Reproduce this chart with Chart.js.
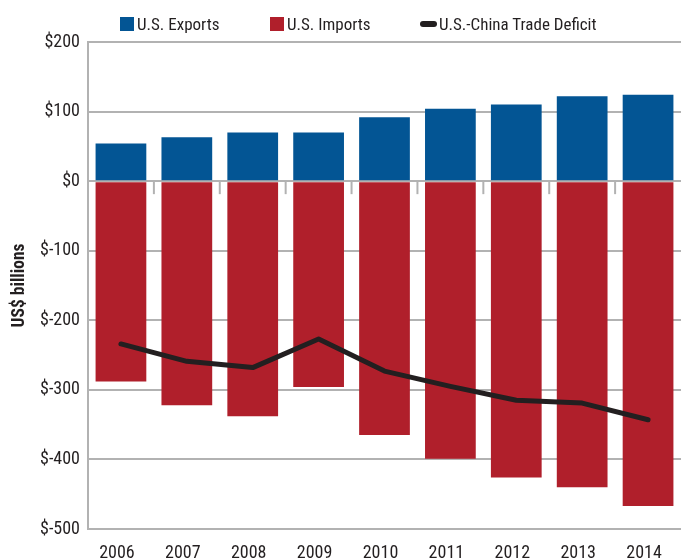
<!DOCTYPE html>
<html>
<head>
<meta charset="utf-8">
<script src="https://cdn.jsdelivr.net/npm/chart.js@4/dist/chart.umd.min.js"></script>
<style>
  html, body { margin: 0; padding: 0; background: #fff; }
  #wrap { position: relative; width: 681px; height: 558px; }
  #legend { position: absolute; left: 0; top: 13px; width: 681px; height: 21px;
    font-family: 'Liberation Sans Narrow', 'Roboto Condensed', 'Liberation Sans', sans-serif; font-size: 17px; color: #231f20; }
  .item { position: absolute; top: 0; display: flex; align-items: center; white-space: nowrap; height: 21px; }
  .sw { width: 14px; height: 14px; margin-right: 3px; }
  .ln { width: 17px; height: 6px; border-radius: 3px; margin-right: 2px; background: #231f20; }
</style>
</head>
<body>
<div id="wrap">
  <canvas id="c" width="681" height="558"></canvas>
  <div id="legend"></div>
</div>
<script>
const years = ['2006', '2007', '2008', '2009', '2010', '2011', '2012', '2013', '2014'];
const exportsUS = [54, 63, 70, 70, 92, 104, 110, 122, 124];
const importsUS = [-288, -322, -338, -296, -365, -399, -426, -440, -467];
const tradeDeficit = [-234, -259, -268, -227, -273, -295, -315, -319, -343];
const seriesNames = ['U.S. Exports', 'U.S. Imports', 'U.S.-China Trade Deficit'];
const yTicks = [200, 100, 0, -100, -200, -300, -400, -500];

const BLUE = '#035594', RED = '#B01F2B', DARK = '#231f20', GRID = '#b2b2b2';
const FONT = "'Liberation Sans Narrow', 'Roboto Condensed', 'Liberation Sans', sans-serif";

// HTML legend
const legend = document.getElementById('legend');
const legendLeft = [120, 270, 420];
[[seriesNames[0], BLUE, 'sw'], [seriesNames[1], RED, 'sw'], [seriesNames[2], DARK, 'ln']].forEach(([t, c, k], i) => {
  const it = document.createElement('div'); it.className = 'item'; it.style.left = legendLeft[i] + 'px';
  const s = document.createElement('div'); s.className = k; s.style.background = c;
  const tx = document.createElement('span'); tx.textContent = t;
  it.appendChild(s); it.appendChild(tx); legend.appendChild(it);
});

// category boundary tick marks hanging below the zero line
const zeroTicks = {
  id: 'zeroTicks',
  beforeDatasetsDraw(chart) {
    const x = chart.scales.x, y = chart.scales.y, ctx = chart.ctx;
    const y0 = y.getPixelForValue(0);
    ctx.save();
    ctx.strokeStyle = GRID; ctx.lineWidth = 2;
    for (let i = 1; i < years.length; i++) {
      const px = (x.getPixelForValue(i - 1) + x.getPixelForValue(i)) / 2;
      ctx.beginPath(); ctx.moveTo(px, y0); ctx.lineTo(px, y0 + 13); ctx.stroke();
    }
    ctx.restore();
  }
};

new Chart(document.getElementById('c'), {
  data: {
    labels: years,
    datasets: [
      { type: 'line', label: seriesNames[2], data: tradeDeficit, stack: 'deficit', order: 0,
        borderColor: DARK, borderWidth: 5, pointRadius: 0, tension: 0,
        borderCapStyle: 'round', borderJoinStyle: 'round', fill: false },
      { type: 'bar', label: seriesNames[0], data: exportsUS, stack: 'trade', order: 1,
        backgroundColor: BLUE, borderWidth: 0, barPercentage: 0.77, categoryPercentage: 1 },
      { type: 'bar', label: seriesNames[1], data: importsUS, stack: 'trade', order: 2,
        backgroundColor: RED, borderWidth: 0, barPercentage: 0.77, categoryPercentage: 1 }
    ]
  },
  plugins: [zeroTicks],
  options: {
    responsive: false,
    animation: false,
    layout: { padding: { top: 42, right: 0, left: 0, bottom: 0 } },
    plugins: { legend: { display: false }, tooltip: { enabled: false } },
    scales: {
      x: {
        stacked: true,
        grid: { display: false },
        border: { display: false },
        ticks: { font: { family: FONT, size: 18 }, color: DARK, padding: 6, maxRotation: 0, labelOffset: -4 },
        afterFit: s => { s.height = 29; }
      },
      y: {
        stacked: true,
        min: -500, max: 200,
        afterBuildTicks: s => { s.ticks = yTicks.map(v => ({ value: v })); },
        grid: { color: GRID, lineWidth: 2, drawTicks: false },
        border: { display: true, color: GRID, width: 2 },
        ticks: { font: { family: FONT, size: 18 }, color: DARK, padding: 8, callback: v => '$' + v },
        title: { display: true, text: 'US$ billions', font: { family: FONT, size: 17.5, weight: 'bold' }, color: DARK, padding: { top: 9, bottom: 0 } },
        afterFit: s => { s.width = 88; }
      }
    }
  }
});
</script>
</body>
</html>
